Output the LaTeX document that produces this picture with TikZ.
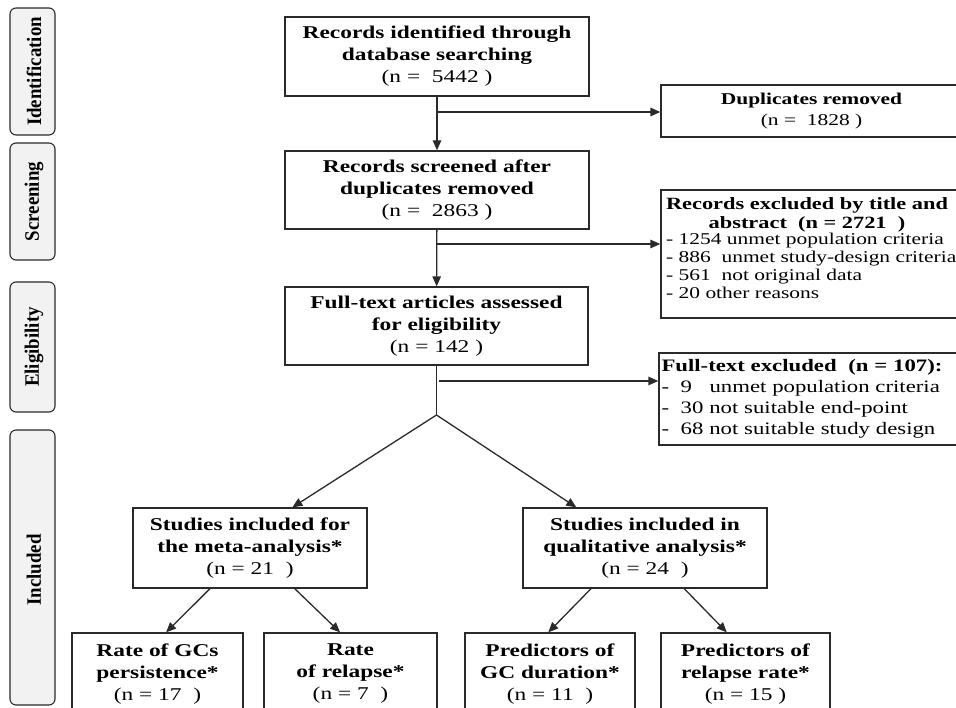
\documentclass[tikz,border=0pt]{standalone}
\usepackage{fontspec}
\setmainfont{Liberation Serif}[FakeStretch=1.3]
\newfontfamily\sidefont{Liberation Serif}[FakeStretch=0.92]
\usetikzlibrary{arrows.meta,calc}
\definecolor{sidefill}{HTML}{F2F2F2}
\definecolor{edge}{HTML}{2A2A2A}
\begin{document}
\begin{tikzpicture}[x=1pt,y=-1pt,
  box/.style={draw=edge, line width=1.3pt, inner sep=0pt, align=center, font=\fontsize{18}{22}\selectfont},
  sidebox/.style={draw=edge, fill=sidefill, line width=1.1pt, rounded corners=6pt, minimum width=45pt, inner sep=0pt},
  sidetxt/.style={rotate=90, inner sep=0pt, font=\sidefont\bfseries\fontsize{20.5}{22}\selectfont},
  arr/.style={draw=edge, line width=1.3pt, -{Triangle[length=10pt,width=8.5pt]}},
  ln/.style={draw=edge, line width=1.3pt}]
\useasboundingbox (0,0) rectangle (956,708);
\clip (0,0) rectangle (956,708);

% side labels
\node[sidebox, minimum height=127pt] (sid) at (32.5,71.5) {};
\node[sidetxt] (sidt) at (34,71.5) {Identification};
\node[sidebox, minimum height=117pt] (sscr) at (32.5,201.5) {};
\node[sidetxt] (sscrt) at (34,201.5) {Screening};
\node[sidebox, minimum height=130pt] (sel) at (32.5,347) {};
\node[sidetxt] (selt) at (34,347) {Eligibility};
\node[sidebox, minimum height=275pt] (sinc) at (32.5,567.5) {};
\node[sidetxt] (sinct) at (34,570) {Included};

% main column
\node[box, minimum width=304pt, minimum height=79pt] (b1) at (437,56.5)
  {\textbf{Records identified through}\\\textbf{database searching}\\(n = \ 5442 )};
\node[box, minimum width=304pt, minimum height=78pt] (b2) at (437,190)
  {\textbf{Records screened after}\\\textbf{duplicates removed}\\(n = \ 2863 )};
\node[box, minimum width=303pt, minimum height=78pt] (b3) at (436.5,326)
  {\textbf{Full-text articles assessed}\\\textbf{for eligibility}\\(n = 142 )};

% right column
\node[box, minimum width=301pt, minimum height=52pt, font=\fontsize{16.5}{21}\selectfont] (dup) at (811.5,111)
  {\textbf{Duplicates removed}\\(n = \ 1828 )};
\node[box, minimum width=301pt, minimum height=128pt] (excl) at (811.5,254) {};
\node[inner sep=0pt, align=center, font=\fontsize{17.2}{18.5}\selectfont] (exclt) at (807,215)
  {\textbf{Records excluded by title and}\\\textbf{abstract \ (n = 2721 \ )}};
\node[inner sep=0pt, align=left, anchor=north west, font=\fontsize{16.5}{18.2}\selectfont] (excli) at (666,232.5)
  {- 1254 unmet population criteria\\- 886 \ unmet study-design criteria\\- 561 \ not original data\\- 20 other reasons};
\node[box, minimum width=303pt, minimum height=92pt, text width=298pt, align=left,
      font=\fontsize{17.5}{21}\selectfont] (fe) at (810.5,399)
  {\textbf{Full-text excluded \ (n = 107):}\\- \ 9 \ \ unmet population criteria\\- \ 30 not suitable end-point\\- \ 68 not suitable study design};

% included
\node[box, minimum width=234pt, minimum height=80pt] (meta) at (250,548)
  {\textbf{Studies included for}\\\textbf{the meta-analysis*}\\(n = 21 \ )};
\node[box, minimum width=244pt, minimum height=80pt] (qual) at (645,548)
  {\textbf{Studies included in}\\\textbf{qualitative analysis*}\\(n = 24 \ )};
\node[box, minimum width=171pt, minimum height=82pt] (rgc) at (157.5,674)
  {\textbf{Rate of GCs}\\\textbf{persistence*}\\(n = 17 \ )};
\node[box, minimum width=173pt, minimum height=82pt] (rrel) at (350.5,674)
  {\textbf{Rate}\\\textbf{of relapse*}\\(n = 7 \ )};
\node[box, minimum width=170pt, minimum height=82pt] (pgc) at (550,674)
  {\textbf{Predictors of}\\\textbf{GC duration*}\\(n = 11 \ )};
\node[box, minimum width=169pt, minimum height=82pt] (prel) at (745.5,674)
  {\textbf{Predictors of}\\\textbf{relapse rate*}\\(n = 15 )};

% connectors
\coordinate (j1) at (437,112);
\coordinate (j2) at (437,244);
\coordinate (sp) at (436.5,415);
\coordinate (j3) at (438.5,381);
\draw[arr] (b1) -- (b2);
\draw[arr] (j1) -- (dup.west |- j1);
\draw[arr] (b2) -- (b3);
\draw[arr] (j2) -- (excl.west |- j2);
\draw[ln] (b3.south) -- (sp);
\draw[arr] (j3) -- (fe.west |- j3);
\draw[arr] (sp) -- ($(meta.north west)!0.68!(meta.north east)$);
\draw[arr] (sp) -- ($(qual.north west)!0.22!(qual.north east)$);
\draw[arr] ($(meta.south west)!0.33!(meta.south east)$) -- ($(rgc.north west)!0.55!(rgc.north east)$);
\draw[arr] ($(meta.south west)!0.69!(meta.south east)$) -- ($(rrel.north west)!0.44!(rrel.north east)$);
\draw[arr] ($(qual.south west)!0.28!(qual.south east)$) -- ($(pgc.north west)!0.49!(pgc.north east)$);
\draw[arr] ($(qual.south west)!0.66!(qual.south east)$) -- ($(prel.north west)!0.39!(prel.north east)$);
\end{tikzpicture}
\end{document}
